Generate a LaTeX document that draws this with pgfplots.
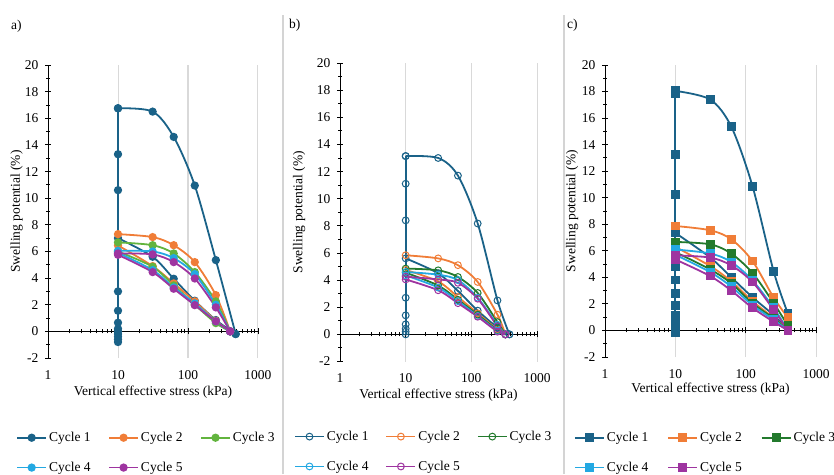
\documentclass[border=0pt]{standalone}
\usepackage{fontspec}
\setmainfont{Liberation Serif}
\usepackage{pgfplots}
\pgfplotsset{compat=1.18}
\definecolor{cA}{RGB}{26,98,136}
\definecolor{cB}{RGB}{240,125,55}
\definecolor{cCl}{RGB}{98,180,62}
\definecolor{cCd}{RGB}{35,122,45}
\definecolor{cD}{RGB}{35,168,226}
\definecolor{cE}{RGB}{158,52,160}
\definecolor{gridgray}{RGB}{217,217,217}
\definecolor{sepgray}{RGB}{212,212,212}
\newcommand\fs{\fontsize{13.5}{16}\selectfont}
\begin{document}
\begin{tikzpicture}
\useasboundingbox (0pt,0pt) rectangle (834pt,474pt);
\draw[sepgray, line width=1.5pt] (283pt,0pt) -- (283pt,459pt);
\draw[sepgray, line width=1.5pt] (564pt,0pt) -- (564pt,459pt);
\node[anchor=west, font=\fs, inner sep=0pt] at (11pt,448pt) {a)};
\node[anchor=west, font=\fs, inner sep=0pt] at (289pt,449pt) {b)};
\node[anchor=west, font=\fs, inner sep=0pt] at (567pt,449pt) {c)};

% ---------------- panel a ----------------
\begin{axis}[scale only axis, anchor=south west, at={(48pt,116pt)}, width=210pt, height=293pt,
    xmode=log, xmin=1, xmax=1000, ymin=-2, ymax=20,
    axis x line=middle, axis y line=left,
    axis line style={-, line width=1pt, black},
    hide obscured x ticks=false,
    xtick={1,10,100,1000}, xticklabels={1,10,100,1000},
    minor xtick={2,3,4,5,6,7,8,9,20,30,40,50,60,70,80,90,200,300,400,500,600,700,800,900},
    ytick={-2,0,...,20}, yticklabels={-2,0,2,4,6,8,10,12,14,16,18,20},
    minor ytick={-1,1,...,19},
    tick align=center, major tick length=6pt, minor tick length=4pt,
    tick style={black, line width=0.9pt},
    xmajorgrids=true, grid style={gridgray, line width=1pt},
    tick label style={font=\fs},
    xticklabel style={yshift=-33pt},
    yticklabel style={xshift=-3pt},
    xlabel={Vertical effective stress (kPa)},
    ylabel={Swelling potential (\%)},
    x label style={at={(axis description cs:0.5,0)}, anchor=north, yshift=-24pt, font=\fs},
    y label style={at={(axis description cs:-0.149,0.5)}, anchor=center, font=\fs},
    legend columns=3, legend cell align=left,
    legend image code/.code={\draw[mark repeat=2,mark phase=2] plot coordinates {(0pt,0pt)(14.5pt,0pt)(29pt,0pt)};},
    legend style={draw=none, fill=none, font=\fs, inner sep=0pt, row sep=15pt, anchor=north west,
      /tikz/every even column/.append style={column sep=15.5pt},
      at={(axis description cs:-0.152,-0.246)}},
    every axis plot/.append style={line width=1.8pt, mark=*, mark size=3.2pt, mark options={solid}}]
\addplot[cA, forget plot] coordinates {(10,-0.8)(10,-0.6)(10,-0.4)(10,-0.2)(10,0)(10,0.2)(10,0.65)(10,1.55)(10,3.0)(10,10.6)(10,13.3)(10,16.75)};
\addplot[cA, smooth] coordinates {(10,16.75)(31.25,16.5)(62.5,14.6)(125,10.95)(250,5.35)(480,-0.2)};
\addlegendentry{Cycle 1}
\addplot[cA, smooth, forget plot] coordinates {(480,-0.2)(250,0.85)(125,2.3)(62.5,3.95)(31.25,5.6)(10,7.0)};
\addplot[cB, smooth] coordinates {(10,7.3)(31.25,7.08)(62.5,6.47)(125,5.2)(250,2.72)(400,0)};
\addlegendentry{Cycle 2}
\addplot[cB, smooth, forget plot] coordinates {(400,0)(250,0.8)(125,2.25)(62.5,3.6)(31.25,4.9)(10,6.45)};
\addplot[cCl, smooth] coordinates {(10,6.68)(31.25,6.47)(62.5,5.85)(125,4.45)(250,2.25)(400,0)};
\addlegendentry{Cycle 3}
\addplot[cCl, smooth, forget plot] coordinates {(400,0)(250,0.62)(125,2.0)(62.5,3.45)(31.25,4.85)(10,6.0)};
\addplot[cD, smooth] coordinates {(10,6.05)(31.25,6.0)(62.5,5.5)(125,4.3)(250,2.0)(400,0)};
\addlegendentry{Cycle 4}
\addplot[cD, smooth, forget plot] coordinates {(400,0)(250,0.75)(125,2.1)(62.5,3.3)(31.25,4.6)(10,5.9)};
\addplot[cE, smooth] coordinates {(10,5.85)(31.25,5.78)(62.5,5.2)(125,3.97)(250,1.8)(400,0)};
\addlegendentry{Cycle 5}
\addplot[cE, smooth, forget plot] coordinates {(400,0)(250,0.75)(125,1.97)(62.5,3.2)(31.25,4.45)(10,5.75)};
\end{axis}

% ---------------- panel b ----------------
\begin{axis}[scale only axis, anchor=south west, at={(340pt,112.5pt)}, width=197pt, height=298.5pt,
    xmode=log, xmin=1, xmax=1000, ymin=-2, ymax=20,
    axis x line=middle, axis y line=left,
    axis line style={-, line width=1pt, black},
    hide obscured x ticks=false,
    xtick={1,10,100,1000}, xticklabels={1,10,100,1000},
    minor xtick={2,3,4,5,6,7,8,9,20,30,40,50,60,70,80,90,200,300,400,500,600,700,800,900},
    ytick={-2,0,...,20}, yticklabels={-2,0,2,4,6,8,10,12,14,16,18,20},
    minor ytick={-1,1,...,19},
    tick align=center, major tick length=6pt, minor tick length=4pt,
    tick style={black, line width=0.9pt},
    xmajorgrids=true, grid style={gridgray, line width=1pt},
    tick label style={font=\fs},
    xticklabel style={yshift=-33pt},
    yticklabel style={xshift=-3pt},
    xlabel={Vertical effective stress (kPa)},
    ylabel={Swelling potential (\%)},
    x label style={at={(axis description cs:0.5,0)}, anchor=north, yshift=-24pt, font=\fs},
    y label style={at={(axis description cs:-0.208,0.5)}, anchor=center, font=\fs},
    legend columns=3, legend cell align=left,
    legend image code/.code={\draw[mark repeat=2,mark phase=2] plot coordinates {(0pt,0pt)(14.5pt,0pt)(29pt,0pt)};},
    legend style={draw=none, fill=none, font=\fs, inner sep=0pt, row sep=15pt, anchor=north west,
      /tikz/every even column/.append style={column sep=15pt},
      at={(axis description cs:-0.234,-0.226)}},
    every axis plot/.append style={line width=1.8pt, mark=o, mark size=3.4pt, mark options={solid, line width=1pt}}]
\addplot[cA, forget plot] coordinates {(10,0)(10,0.2)(10,0.42)(10,0.74)(10,1.4)(10,2.7)(10,8.4)(10,11.1)(10,13.14)};
\addplot[cA, smooth] coordinates {(10,13.14)(31.25,13.0)(62.5,11.7)(125,8.17)(250,2.5)(380,0)};
\addlegendentry{Cycle 1}
\addplot[cA, smooth, forget plot] coordinates {(380,0)(250,0.5)(125,1.75)(62.5,3.2)(31.25,4.5)(10,5.6)};
\addplot[cB, smooth] coordinates {(10,5.83)(31.25,5.6)(62.5,5.1)(125,3.86)(250,1.45)(330,0)};
\addlegendentry{Cycle 2}
\addplot[cB, smooth, forget plot] coordinates {(330,0)(250,0.35)(125,1.55)(62.5,2.75)(31.25,3.9)(10,4.75)};
\addplot[cCd, smooth] coordinates {(10,4.85)(31.25,4.72)(62.5,4.23)(125,3.05)(250,0.9)(330,0)};
\addlegendentry{Cycle 3}
\addplot[cCd, smooth, forget plot] coordinates {(330,0)(250,0.3)(125,1.45)(62.5,2.55)(31.25,3.6)(10,4.55)};
\addplot[cD, smooth] coordinates {(10,4.6)(31.25,4.4)(62.5,4.0)(125,2.7)(250,0.7)(330,0)};
\addlegendentry{Cycle 4}
\addplot[cD, smooth, forget plot] coordinates {(330,0)(250,0.25)(125,1.35)(62.5,2.45)(31.25,3.45)(10,4.35)};
\addplot[cE, smooth] coordinates {(10,4.25)(31.25,4.05)(62.5,3.8)(125,2.63)(250,0.6)(330,0)};
\addlegendentry{Cycle 5}
\addplot[cE, smooth, forget plot] coordinates {(330,0)(250,0.2)(125,1.3)(62.5,2.3)(31.25,3.25)(10,4.05)};
\end{axis}

% ---------------- panel c ----------------
\begin{axis}[scale only axis, anchor=south west, at={(605pt,117pt)}, width=211pt, height=292pt,
    xmode=log, xmin=1, xmax=1000, ymin=-2, ymax=20,
    axis x line=middle, axis y line=left,
    axis line style={-, line width=1pt, black},
    hide obscured x ticks=false,
    xtick={1,10,100,1000}, xticklabels={1,10,100,1000},
    minor xtick={2,3,4,5,6,7,8,9,20,30,40,50,60,70,80,90,200,300,400,500,600,700,800,900},
    ytick={-2,0,...,20}, yticklabels={-2,0,2,4,6,8,10,12,14,16,18,20},
    minor ytick={-1,1,...,19},
    tick align=center, major tick length=6pt, minor tick length=4pt,
    tick style={black, line width=0.9pt},
    xmajorgrids=true, grid style={gridgray, line width=1pt},
    tick label style={font=\fs},
    xticklabel style={yshift=-33pt},
    yticklabel style={xshift=-3pt},
    xlabel={Vertical effective stress (kPa)},
    ylabel={Swelling potential (\%)},
    x label style={at={(axis description cs:0.5,0)}, anchor=north, yshift=-22pt, font=\fs},
    y label style={at={(axis description cs:-0.156,0.5)}, anchor=center, font=\fs},
    legend columns=3, legend cell align=left,
    legend image code/.code={\draw[mark repeat=2,mark phase=2] plot coordinates {(0pt,0pt)(14.5pt,0pt)(29pt,0pt)};},
    legend style={draw=none, fill=none, font=\fs, inner sep=0pt, row sep=15pt, anchor=north west,
      /tikz/every even column/.append style={column sep=17pt},
      at={(axis description cs:-0.148,-0.25)}},
    every axis plot/.append style={line width=1.8pt, mark=square*, mark size=3.5pt, mark options={solid}}]
\addplot[cA, forget plot] coordinates {(10,-0.15)(10,0.3)(10,0.75)(10,1.13)(10,1.9)(10,2.77)(10,3.8)(10,4.8)(10,10.26)(10,13.26)(10,17.85)(10,18.05)};
\addplot[cA, smooth] coordinates {(10,18.05)(31.25,17.4)(62.5,15.35)(125,10.87)(250,4.45)(400,1.25)};
\addlegendentry{Cycle 1}
\addplot[cA, mark=none, forget plot] coordinates {(400,1.25)(400,0)};
\addplot[cA, smooth, forget plot] coordinates {(400,0)(250,1.15)(125,2.5)(62.5,4.0)(31.25,5.5)(10,7.35)};
\addplot[cB, smooth] coordinates {(10,7.87)(31.25,7.55)(62.5,6.87)(125,5.23)(250,2.47)(400,0.95)};
\addlegendentry{Cycle 2}
\addplot[cB, mark=none, forget plot] coordinates {(400,0.95)(400,0)};
\addplot[cB, smooth, forget plot] coordinates {(400,0)(250,0.95)(125,2.2)(62.5,3.7)(31.25,4.85)(10,6.3)};
\addplot[cCd, smooth] coordinates {(10,6.67)(31.25,6.49)(62.5,5.79)(125,4.33)(250,2.06)(400,0.35)};
\addlegendentry{Cycle 3}
\addplot[cCd, mark=none, forget plot] coordinates {(400,0.35)(400,0)};
\addplot[cCd, smooth, forget plot] coordinates {(400,0)(250,0.9)(125,2.05)(62.5,3.55)(31.25,4.6)(10,5.9)};
\addplot[cD, smooth] coordinates {(10,6.1)(31.25,5.8)(62.5,5.16)(125,3.77)(250,1.7)(400,0)};
\addlegendentry{Cycle 4}
\addplot[cD, smooth, forget plot] coordinates {(400,0)(250,0.8)(125,1.9)(62.5,3.3)(31.25,4.4)(10,5.7)};
\addplot[cE, smooth] coordinates {(10,5.66)(31.25,5.49)(62.5,4.9)(125,3.65)(250,1.55)(400,0)};
\addlegendentry{Cycle 5}
\addplot[cE, smooth, forget plot] coordinates {(400,0)(250,0.65)(125,1.7)(62.5,3.0)(31.25,4.1)(10,5.35)};
\end{axis}
\end{tikzpicture}
\end{document}
